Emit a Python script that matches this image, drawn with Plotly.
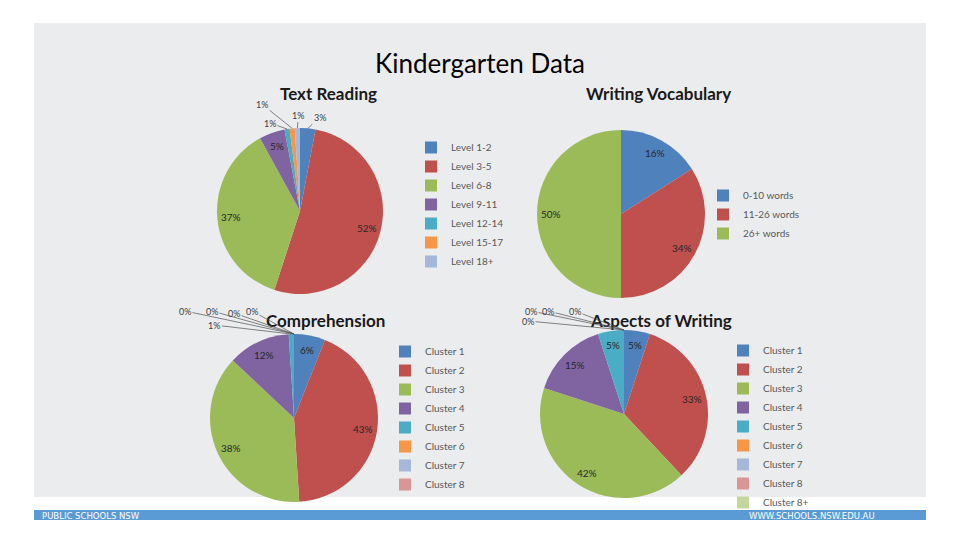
import math
import plotly.graph_objects as go

W, H = 960, 540

# ---------------- data ----------------
title_text = "Kindergarten Data"

tr_title = "Text Reading"
tr_labels = ["Level 1-2", "Level 3-5", "Level 6-8", "Level 9-11", "Level 12-14", "Level 15-17", "Level 18+"]
tr_values = [3, 52, 37, 5, 1, 1, 1]

wv_title = "Writing Vocabulary"
wv_labels = ["0-10 words", "11-26 words", "26+ words"]
wv_values = [16, 34, 50]

cm_title = "Comprehension"
cm_labels = ["Cluster 1", "Cluster 2", "Cluster 3", "Cluster 4", "Cluster 5", "Cluster 6", "Cluster 7", "Cluster 8"]
cm_values = [6, 43, 38, 12, 1, 0, 0, 0, 0]   # last value has no legend entry in the source

aw_title = "Aspects of Writing"
aw_labels = ["Cluster 1", "Cluster 2", "Cluster 3", "Cluster 4", "Cluster 5", "Cluster 6", "Cluster 7", "Cluster 8", "Cluster 8+"]
aw_values = [5, 33, 42, 15, 5, 0, 0, 0, 0]

footer_left = "PUBLIC SCHOOLS NSW"
footer_right = "WWW.SCHOOLS.NSW.EDU.AU"

# ---------------- style ----------------
COLORS = ["#4F81BD", "#C0504D", "#9BBB59", "#8064A2", "#4BACC6", "#F79646",
          "#A5B8D9", "#D99694", "#C3D69B"]
PANEL = "#EBECEE"
FONT = "Lato"

# pie geometry in pixels: centre x, centre y, radius
charts = [
    dict(title=tr_title, labels=tr_labels, values=tr_values, cx=300, cy=211, r=83,
         title_xy=(328, 93), legend="legend", legend_xy=(411, 133), key="",
         outside={4: (-17, -6), 5: (-30, -24), 6: (1, -13), 0: (12, -11)}),
    dict(title=wv_title, labels=wv_labels, values=wv_values, cx=621, cy=214, r=84,
         title_xy=(658, 93), legend="legend2", legend_xy=(703, 181), key="", outside={}),
    dict(title=cm_title, labels=cm_labels, values=cm_values, cx=294, cy=418, r=84,
         title_xy=(325, 320), legend="legend3", legend_xy=(385, 337), key="",
         outside={4: (-77, -9), 5: (-109, -23), 6: (-82, -23), 7: (-60, -21), 8: (-42, -23)}),
    dict(title=aw_title, labels=aw_labels, values=aw_values, cx=624, cy=414, r=84,
         title_xy=(661, 320), legend="legend4", legend_xy=(723, 336), key=" ",
         outside={5: (-96, -9), 6: (-93, -19), 7: (-76, -19), 8: (-49, -19)}),
]


def px(x):
    return x / W


def py(y):
    return 1 - y / H


fig = go.Figure()
annotations = []

for c in charts:
    cx, cy, r = c["cx"], c["cy"], c["r"]
    n = len(c["labels"])
    fig.add_trace(go.Pie(
        labels=[lab + c["key"] for lab in c["labels"]], values=c["values"][:n],
        sort=False, direction="clockwise", rotation=0,
        marker=dict(colors=COLORS[:n], line=dict(width=0)),
        textinfo="none", hoverinfo="label+percent",
        domain=dict(x=[px(cx - r), px(cx + r)], y=[py(cy + r), py(cy - r)]),
        legend=c["legend"], showlegend=True,
    ))
    # chart title
    annotations.append(dict(text="<b>%s</b>" % c["title"], x=px(c["title_xy"][0]), y=py(c["title_xy"][1]),
                            xref="paper", yref="paper", showarrow=False,
                            xanchor="center", yanchor="middle",
                            font=dict(family=FONT, size=17, color="#1a1a1a")))
    # data labels
    total = float(sum(c["values"]))
    acc = 0.0
    for i, v in enumerate(c["values"]):
        mid = (acc + v / 2.0) / total
        acc += v
        ang = 2 * math.pi * mid
        txt = "%d%%" % round(100 * v / total)
        if i in c["outside"]:
            tx = cx + r * math.sin(ang)
            ty = cy - r * math.cos(ang)
            ox, oy = c["outside"][i]
            annotations.append(dict(text=txt, x=px(tx), y=py(ty), xref="paper", yref="paper",
                                    showarrow=True, arrowhead=0, arrowwidth=0.7, arrowcolor="#505050",
                                    ax=ox, ay=oy, standoff=0, startstandoff=0,
                                    xanchor="center", yanchor="middle",
                                    font=dict(family=FONT, size=9, color="#404040")))
        else:
            tx = cx + 0.83 * r * math.sin(ang)
            ty = cy - 0.83 * r * math.cos(ang)
            annotations.append(dict(text=txt, x=px(tx), y=py(ty), xref="paper", yref="paper",
                                    showarrow=False, xanchor="center", yanchor="middle",
                                    font=dict(family=FONT, size=10, color="#262626")))

# main title
annotations.append(dict(text=title_text, x=0.5, y=py(63), xref="paper", yref="paper", showarrow=False,
                        xanchor="center", yanchor="middle",
                        font=dict(family=FONT, size=26, color="#000000")))
# footer
annotations.append(dict(text=footer_left, x=px(40), y=py(516), xref="paper", yref="paper", showarrow=False,
                        xanchor="left", yanchor="middle",
                        font=dict(family="DejaVu Sans", size=8.5, color="#ffffff")))
annotations.append(dict(text=footer_right, x=px(877), y=py(516), xref="paper", yref="paper", showarrow=False,
                        xanchor="right", yanchor="middle",
                        font=dict(family="DejaVu Sans", size=8.5, color="#ffffff")))

legend_common = dict(font=dict(family=FONT, size=10, color="#595959"), bgcolor="rgba(0,0,0,0)",
                     borderwidth=0, xanchor="left", yanchor="top", itemclick=False)
legends = {}
for c in charts:
    lx, ly = c["legend_xy"]
    legends[c["legend"]] = dict(legend_common, x=px(lx), y=py(ly))

fig.update_layout(
    width=W, height=H, margin=dict(l=0, r=0, t=0, b=0),
    paper_bgcolor="#ffffff", plot_bgcolor="#ffffff",
    shapes=[
        dict(type="rect", xref="paper", yref="paper", x0=px(34), x1=px(926), y0=py(497), y1=py(23),
             fillcolor=PANEL, line=dict(width=0), layer="below"),
        dict(type="rect", xref="paper", yref="paper", x0=px(34), x1=px(926), y0=py(520), y1=py(510),
             fillcolor="#5B9BD5", line=dict(width=0), layer="below"),
    ],
    annotations=annotations,
    **legends,
)

fig.write_html("out.html")
